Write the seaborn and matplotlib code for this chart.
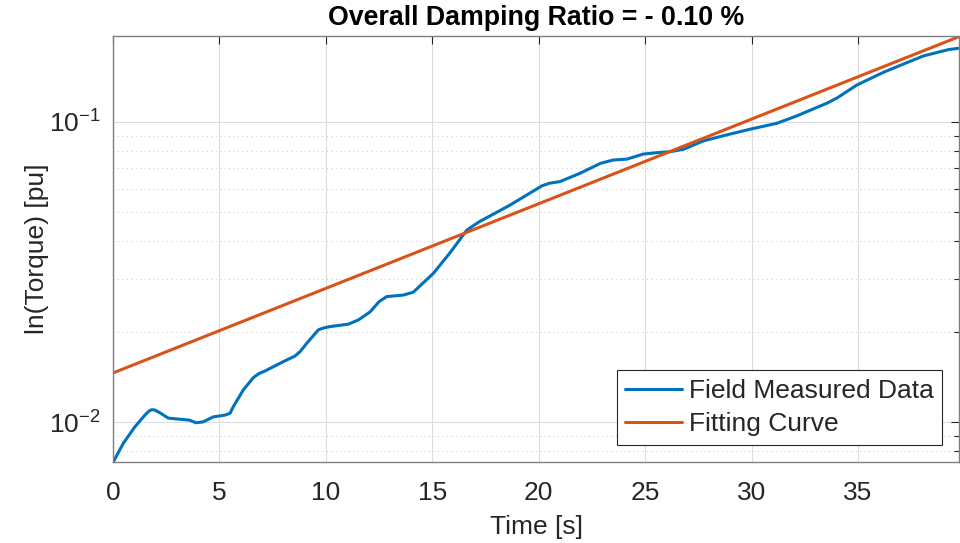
import numpy as np
import pandas as pd
import matplotlib
matplotlib.use("Agg")
import matplotlib.pyplot as plt
from matplotlib.ticker import LogLocator, NullFormatter
import seaborn as sns

# field measured torque envelope
time_s = [0.0, 0.05, 0.48, 1.03, 1.50, 1.70, 1.82, 1.95, 2.15, 2.60, 3.23, 3.60, 3.90,
          4.24, 4.71, 5.26, 5.50, 5.65, 6.12, 6.59, 6.85, 7.14, 8.00, 8.55, 8.80, 9.10,
          9.65, 9.90, 10.18, 11.06, 11.53, 12.08, 12.50, 12.86, 13.64, 14.11, 15.05,
          15.84, 16.62, 17.20, 17.87, 18.66, 19.44, 20.14, 20.50, 21.0, 21.95, 22.9,
          23.5, 24.14, 24.92, 25.7, 26.17, 26.8, 27.74, 28.84, 29.93, 31.19, 32.13,
          33.54, 34.0, 34.95, 36.2, 37.14, 38.08, 38.86, 39.30, 39.72]
torque = [0.00738, 0.00745, 0.00849, 0.00965, 0.01055, 0.01090, 0.0110, 0.01098, 0.01080,
          0.01031, 0.01021, 0.01015, 0.00995, 0.01002, 0.01041, 0.01055, 0.01070,
          0.01125, 0.01279, 0.01406, 0.01450, 0.0148, 0.0159, 0.0166, 0.0172, 0.0183,
          0.0203, 0.0206, 0.0208, 0.0212, 0.0219, 0.0233, 0.0252, 0.0262, 0.0265,
          0.0271, 0.0313, 0.0367, 0.0436, 0.0465, 0.0493, 0.0529, 0.0571, 0.0612,
          0.0625, 0.0633, 0.0675, 0.0728, 0.0747, 0.0752, 0.0782, 0.0792, 0.0796,
          0.0811, 0.0865, 0.0906, 0.0946, 0.0990, 0.1048, 0.1155, 0.120, 0.1328,
          0.1464, 0.156, 0.166, 0.1715, 0.1745, 0.176]

# exponential fit (straight on log axis) - end points
fit_t = [0.0, 39.75]
fit_y = [0.01458, 0.1925]

x_ticks = [0, 5, 10, 15, 20, 25, 30, 35]

sns.set_style("white")
plt.rcParams['font.family'] = ['Liberation Sans', 'DejaVu Sans']
plt.rcParams['mathtext.fontset'] = 'custom'
plt.rcParams['mathtext.rm'] = 'Liberation Sans'
plt.rcParams['mathtext.default'] = 'regular'

meas = pd.DataFrame({"Time": time_s, "Torque": torque})
fit = pd.DataFrame({"Time": fit_t, "Torque": fit_y})

fig = plt.figure(figsize=(9.6, 5.43), dpi=100)
ax = fig.add_axes([0.1177, 0.1497, 0.8813, 0.7831])

sns.lineplot(data=meas, x="Time", y="Torque", ax=ax, color="#0072BD", linewidth=2.2,
             label="Field Measured Data")
sns.lineplot(data=fit, x="Time", y="Torque", ax=ax, color="#D95319", linewidth=2.2,
             label="Fitting Curve")

ax.set_yscale("log")
ax.set_xlim(0, 39.75)
ax.set_ylim(0.00738, 0.1927)
ax.set_xticks(x_ticks)
ax.yaxis.set_major_locator(LogLocator(base=10))
ax.yaxis.set_minor_locator(LogLocator(base=10, subs=np.arange(2, 10)))
ax.yaxis.set_minor_formatter(NullFormatter())

ax.grid(True, which="major", color="#dcdcdc", linewidth=0.8)
ax.grid(True, which="minor", axis="y", color="#d0d0d0", linestyle=(0, (1, 3)), linewidth=0.8)
ax.set_axisbelow(True)

ax.tick_params(which="both", direction="in", top=True, right=True, colors="#262626",
               labelsize=19)
ax.tick_params(which="major", length=6, width=0.8)
ax.tick_params(axis="x", which="major", pad=14)
ax.tick_params(axis="y", which="major", pad=9)
ax.tick_params(which="minor", length=3.5, width=0.8)
for sp in ax.spines.values():
    sp.set_color("#7f7f7f")
    sp.set_linewidth(1.0)

ax.set_xlabel("Time [s]", fontsize=19, color="#262626", labelpad=7)
ax.set_ylabel("ln(Torque) [pu]", fontsize=19, color="#262626", labelpad=0)
ax.set_title("Overall Damping Ratio = - 0.10 %", fontsize=19.3, fontweight="bold",
             color="black", pad=8)

leg = ax.legend(loc="lower right", fontsize=19, frameon=True, fancybox=False,
                edgecolor="#262626", framealpha=1, handlelength=2.15,
                borderaxespad=0.65, labelspacing=0.35, borderpad=0.32, handletextpad=0.25)
leg.get_frame().set_linewidth(0.8)

fig.savefig("out.png", dpi=100)
